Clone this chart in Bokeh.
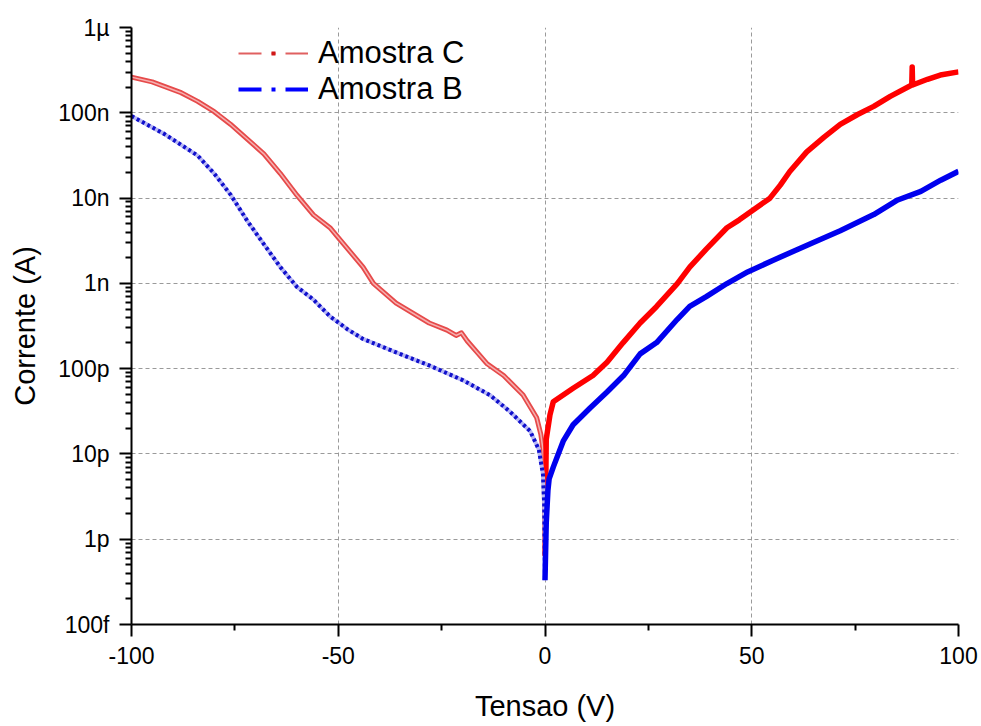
from bokeh.plotting import figure
from bokeh.models import FixedTicker, Legend, LegendItem
from bokeh.embed import file_html
from bokeh.resources import INLINE

# ---- data ----
# Amostra C (red), negative branch
v_c_neg = [-100, -95, -88, -84, -80, -76, -72, -68, -64, -60, -56, -52, -50, -44, -41.5, -36, -28,
           -23.7, -21.5, -20.2, -18.8, -16.4, -14, -10, -5.3, -2, -1, -0.5, -0.2, 0]
i_c_neg = [2.62e-7, 2.30e-7, 1.72e-7, 1.36e-7, 1.03e-7, 7.3e-8, 4.92e-8, 3.30e-8, 1.94e-8, 1.08e-8,
           6.35e-9, 4.49e-9, 3.44e-9, 1.55e-9, 1.0e-9, 5.85e-10, 3.43e-10,
           2.83e-10, 2.45e-10, 2.63e-10, 2.11e-10, 1.55e-10, 1.14e-10, 8.3e-11, 4.9e-11, 2.65e-11,
           1.69e-11, 1.13e-11, 6.6e-12, 6.4e-13]
# Amostra C (red), positive branch
v_c_pos = [0, 0.3, 1.2, 2, 6.8, 11.6, 15, 18.9, 23, 27, 32, 35, 39, 44, 47, 50, 54.4, 56.9, 59.2,
           63.3, 67.5, 71.4, 75.6, 79.5, 83.5, 88.7, 88.8, 88.9, 92.5, 95.6, 100]
i_c_pos = [6.4e-13, 1.48e-11, 2.87e-11, 4.09e-11, 5.89e-11, 8.3e-11, 1.19e-10, 2.02e-10, 3.43e-10,
           5.36e-10, 9.95e-10, 1.55e-9, 2.52e-9, 4.49e-9, 5.56e-9, 7.06e-9, 9.98e-9, 1.42e-8,
           2.05e-8, 3.48e-8, 5.19e-8, 7.33e-8, 9.55e-8, 1.19e-7, 1.56e-7, 2.12e-7, 3.45e-7,
           2.12e-7, 2.47e-7, 2.77e-7, 3.02e-7]
# Amostra B (blue), negative branch
v_b_neg = [-100, -92, -84, -80, -76, -72, -68, -64, -60, -56, -52, -47.8, -44, -36, -28, -19.8,
           -13.3, -8.5, -3.6, -1.5, -0.5, -0.2, 0]
i_b_neg = [9.14e-8, 5.62e-8, 3.15e-8, 1.94e-8, 1.09e-8, 5.41e-9, 2.88e-9, 1.55e-9, 9.1e-10,
           6.45e-10, 4.1e-10, 2.9e-10, 2.23e-10, 1.55e-10, 1.09e-10, 7.3e-11, 4.89e-11, 3.14e-11,
           1.85e-11, 1.13e-11, 5.8e-12, 2.6e-12, 3.3e-13]
# Amostra B (blue), positive branch
v_b_pos = [0, 0.3, 0.7, 1, 2, 4.4, 6.8, 10.9, 15, 19, 23, 27, 32, 35, 39, 44, 49, 55.2, 64.9,
           71.4, 79.5, 85.3, 90.9, 95.7, 100]
i_b_pos = [3.3e-13, 1.54e-12, 3.7e-12, 5.1e-12, 7.0e-12, 1.41e-11, 2.2e-11, 3.46e-11, 5.33e-11,
           8.3e-11, 1.49e-10, 2.02e-10, 3.79e-10, 5.36e-10, 6.98e-10, 9.95e-10, 1.36e-9, 1.87e-9,
           3.01e-9, 4.15e-9, 6.4e-9, 9.5e-9, 1.2e-8, 1.62e-8, 2.06e-8]

x_ticks = [-100, -50, 0, 50, 100]
x_labels = ["-100", "-50", "0", "50", "100"]
x_minor = [-75, -25, 25, 75]
y_ticks = [1e-13, 1e-12, 1e-11, 1e-10, 1e-9, 1e-8, 1e-7, 1e-6]
y_labels = ["100f", "1p", "10p", "100p", "1n", "10n", "100n", "1\u00b5"]
series_names = ["Amostra C", "Amostra B"]

FONT = "Liberation Sans"
NAN = float("nan")

p = figure(width=979, height=724, x_range=(-100, 100), y_range=(1e-13, 1e-6),
           y_axis_type="log", output_backend="svg", toolbar_location=None,
           min_border_left=131, min_border_right=21, min_border_top=27, min_border_bottom=91)
p.outline_line_color = None
p.background_fill_color = "white"

# curves: red first, blue on top
p.line(v_c_neg, i_c_neg, line_color="#e64a4a", line_width=5, line_join="round")
p.line(v_c_neg, i_c_neg, line_color="#f6b0b0", line_width=1.5, line_join="round")
p.line(v_c_pos, i_c_pos, line_color="#ff0000", line_width=5.5, line_join="round")
p.line(v_b_neg, i_b_neg, line_color="#b8b8f4", line_width=4, line_join="round")
p.line(v_b_neg, i_b_neg, line_color="#1010cc", line_width=4, line_dash="3 3", line_join="round")
p.line(v_b_pos, i_b_pos, line_color="#0000ee", line_width=5.5, line_join="round")

# legend-only renderers (single NaN point, never drawn in the plot)
lc = p.line(x=[NAN], y=[NAN], line_color="#e06060", line_width=2, line_dash="23 10 4 10")
dc = p.line(x=[NAN], y=[NAN], line_color="#d01818", line_width=4, line_dash="0 33 4 33")
lb = p.line(x=[NAN], y=[NAN], line_color="#0000ff", line_width=4, line_dash="23 10 4 10")

legend = Legend(items=[LegendItem(label=series_names[0], renderers=[lc, dc]),
                       LegendItem(label=series_names[1], renderers=[lb])],
                location=(107, 517))
legend.label_text_font = FONT
legend.label_text_font_size = "31px"
legend.label_text_color = "black"
legend.glyph_width = 70
legend.glyph_height = 36
legend.label_height = 36
legend.label_standoff = 10
legend.spacing = 0
legend.padding = 5
legend.margin = 0
legend.border_line_color = None
legend.background_fill_alpha = 0
p.add_layout(legend)

# axes
xa = p.xaxis[0]
ya = p.yaxis[0]
xa.ticker = FixedTicker(ticks=x_ticks, minor_ticks=x_minor)
xa.major_label_overrides = {t: l for t, l in zip(x_ticks, x_labels)}
minor_y = [m * t for t in y_ticks[:-1] for m in range(2, 10)]
ya.ticker = FixedTicker(ticks=y_ticks, minor_ticks=minor_y)
ya.major_label_overrides = {t: l for t, l in zip(y_ticks, y_labels)}

for ax in (xa, ya):
    ax.axis_line_width = 2
    ax.axis_line_color = "black"
    ax.major_tick_line_width = 2
    ax.minor_tick_line_width = 2
    ax.major_tick_in = 0
    ax.minor_tick_in = 0
    ax.major_tick_out = 12
    ax.minor_tick_out = 6
    ax.major_label_text_font = FONT
    ax.major_label_text_font_size = "23px"
    ax.major_label_text_color = "black"
    ax.axis_label_text_font = FONT
    ax.axis_label_text_font_size = "29px"
    ax.axis_label_text_font_style = "normal"
    ax.axis_label_text_color = "black"

xa.axis_label = "Tensao (V)"
ya.axis_label = "Corrente (A)"
xa.major_label_standoff = 10
ya.major_label_standoff = 10
xa.axis_label_standoff = 23
ya.axis_label_standoff = 14

# grid
for g in (p.xgrid[0], p.ygrid[0]):
    g.grid_line_color = "#9a9a9a"
    g.grid_line_dash = "4 3"
    g.grid_line_width = 1
p.xgrid[0].ticker = FixedTicker(ticks=x_ticks)
p.ygrid[0].ticker = FixedTicker(ticks=y_ticks)

open("out.html", "w").write(file_html(p, INLINE))
